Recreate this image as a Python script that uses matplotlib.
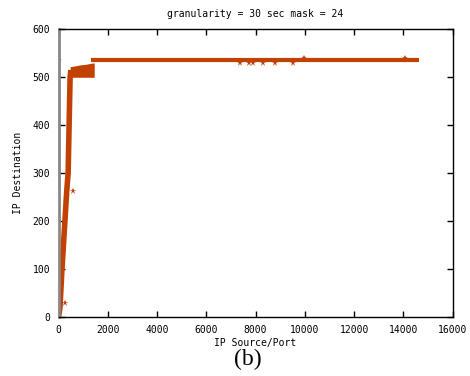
import numpy as np
import matplotlib
matplotlib.use('Agg')
import matplotlib.pyplot as plt

# ramp from origin up to the cluster
ramp_x = [0, 60, 140, 200, 260, 330, 390, 430, 470, 500]
ramp_y = [0, 20, 100, 150, 200, 260, 300, 400, 500, 515]

# dense cluster (lower / upper envelope)
clus_x = [470, 700, 900, 1100, 1300, 1450]
clus_lo = [500, 500, 500, 500, 500, 500]
clus_hi = [522, 524, 526, 527, 529, 530]

# long plateau
plat_x = [1300, 14650]
plat_y = [536, 536]

# scattered points off the main trace
out_x = [0, 250, 600, 7350, 7750, 7900, 8300, 8800, 9500, 9950, 14050]
out_y = [537, 30, 262, 530, 530, 530, 530, 530, 530, 541, 541]

color = '#c24100'
mono = 'DejaVu Sans Mono'

fig = plt.figure(figsize=(4.70, 3.76), dpi=100)
ax = fig.add_axes([0.1245, 0.157, 0.8385, 0.765])

ax.plot(ramp_x, ramp_y, color=color, lw=4.0, solid_capstyle='butt')
ax.fill_between(clus_x, clus_lo, clus_hi, color=color, lw=0)
ax.plot(plat_x, plat_y, color=color, lw=3.0, solid_capstyle='butt')
ax.plot(out_x, out_y, ls='none', marker='*', ms=5, color=color, mew=0)

ax.set_xlim(0, 16000)
ax.set_ylim(0, 600)
ax.set_xticks(np.arange(0, 16001, 2000))
ax.set_yticks(np.arange(0, 601, 100))
ax.tick_params(direction='in', length=4, width=1, top=True, right=True,
               labelsize=7, pad=6)
for lbl in ax.get_xticklabels() + ax.get_yticklabels():
    lbl.set_family(mono)

for s in ['top', 'right', 'bottom']:
    ax.spines[s].set_linewidth(1.0)
ax.spines['left'].set_color('#888888')
ax.spines['left'].set_linewidth(2.0)

ax.set_title('granularity = 30 sec mask = 24', family=mono, fontsize=7, pad=9)
ax.set_xlabel('IP Source/Port', family=mono, fontsize=7, labelpad=2)
ax.set_ylabel('IP Destination', family=mono, fontsize=7, labelpad=7)

fig.text(0.528, 0.043, '(b)', family='Liberation Serif', fontsize=17,
         ha='center', va='center')

fig.savefig('out.png', dpi=100)
